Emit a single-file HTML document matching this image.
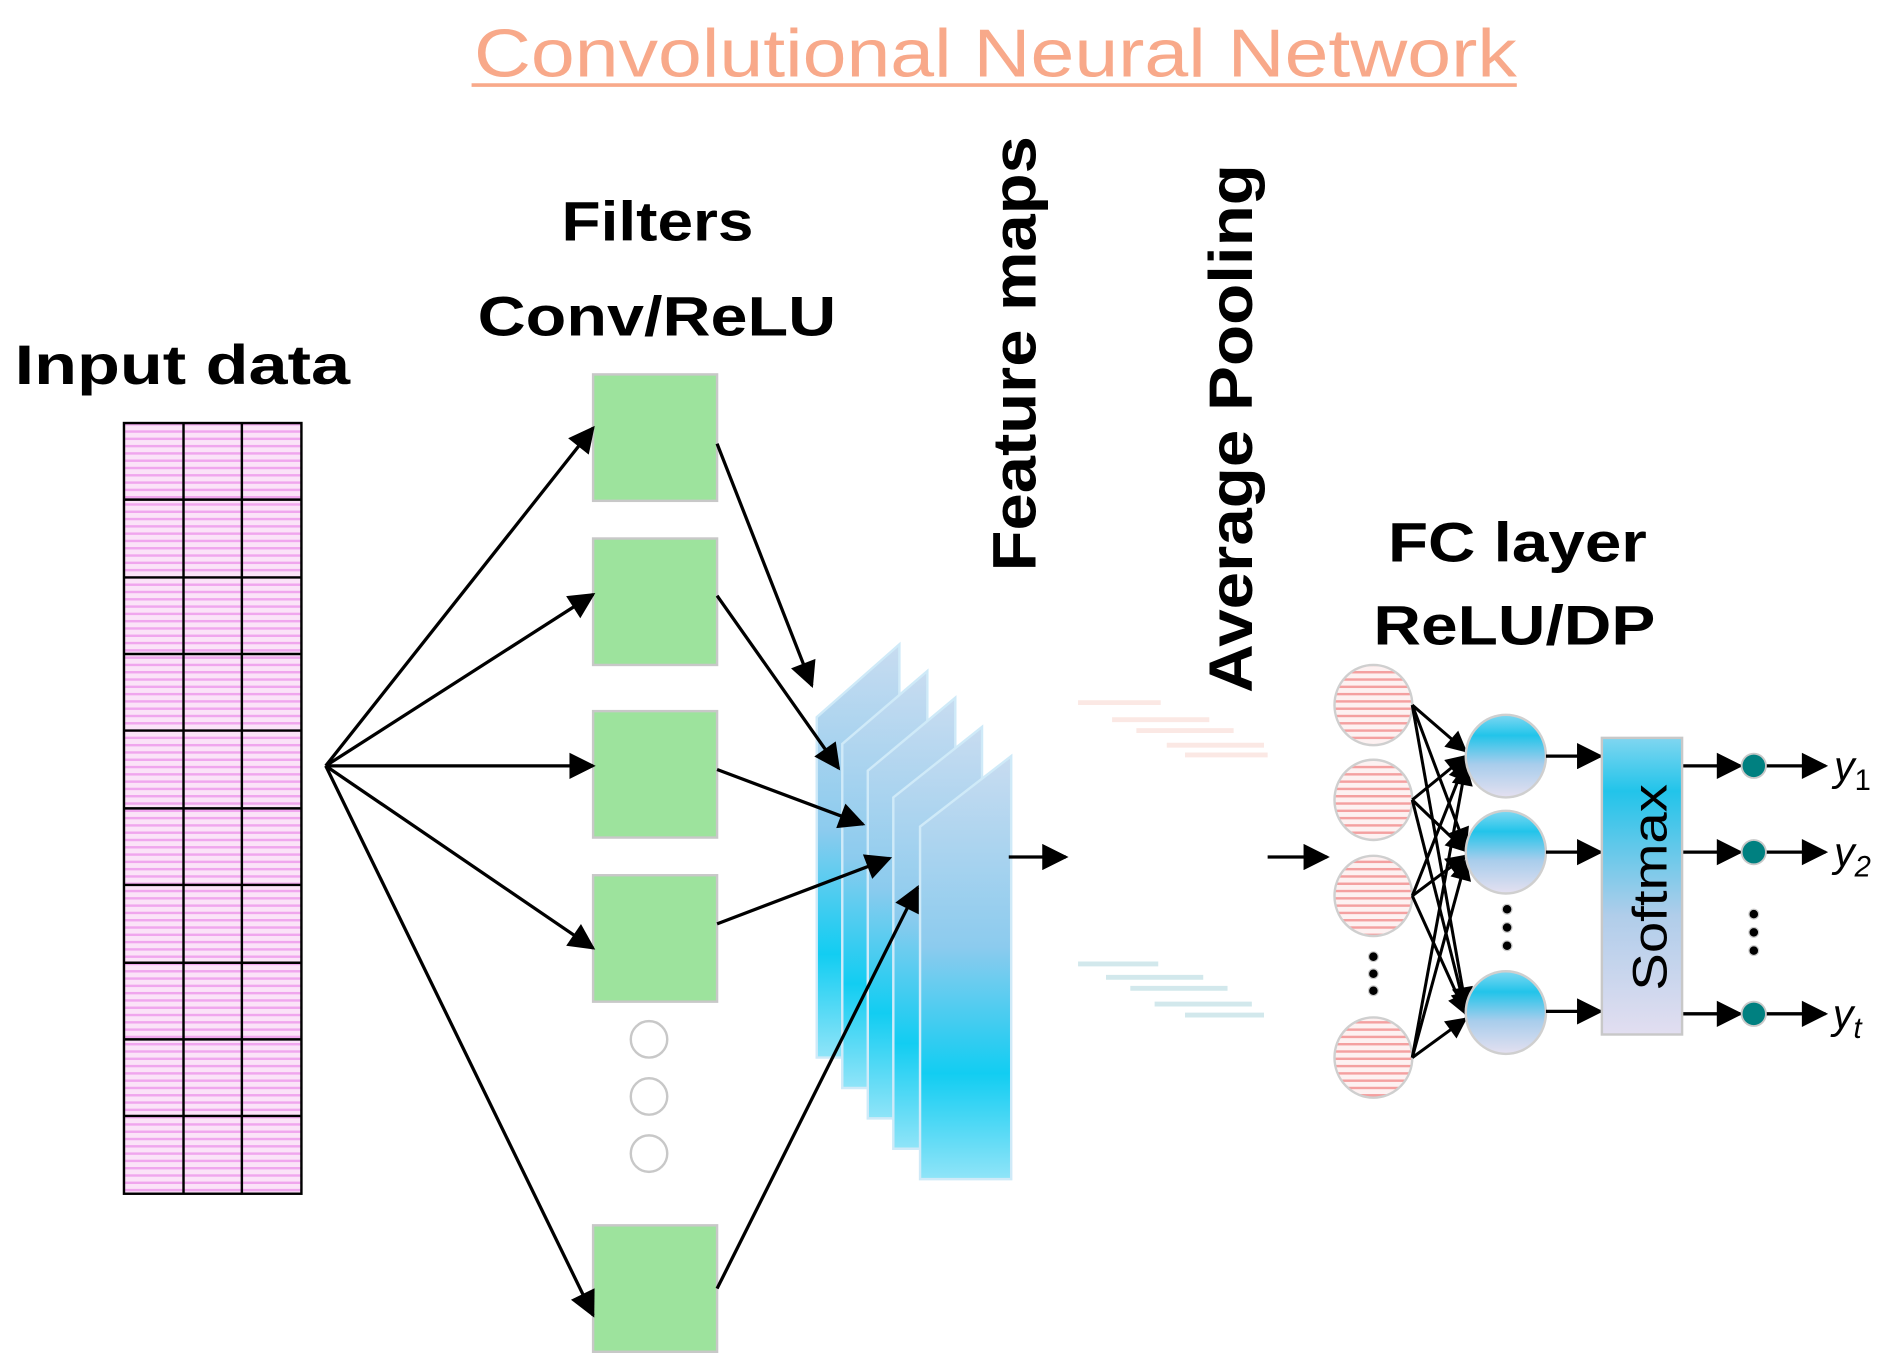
<!DOCTYPE html>
<html><head><meta charset="utf-8"><style>
html,body{margin:0;padding:0;background:#fff;}
svg{display:block;}
text{font-family:"Liberation Sans","DejaVu Sans",sans-serif;}
</style></head><body>
<svg width="1896" height="1370" viewBox="0 0 1560 1127" preserveAspectRatio="none" xmlns="http://www.w3.org/2000/svg">
<defs>
<marker id="a" viewBox="0 0 10 10" refX="9" refY="5" markerWidth="9" markerHeight="8" orient="auto"><path d="M0,0L10,5L0,10z" fill="#000"/></marker>
<marker id="b" viewBox="0 0 10 10" refX="9" refY="5" markerWidth="8" markerHeight="7" orient="auto"><path d="M0,0L10,5L0,10z" fill="#000"/></marker>
<pattern id="pk" width="6" height="6" patternUnits="userSpaceOnUse"><rect width="6" height="6" fill="#fbe3f8"/><rect y="0" width="6" height="2" fill="#f0a6ee"/></pattern>
<pattern id="rd" width="6" height="6" patternUnits="userSpaceOnUse"><rect width="6" height="6" fill="#fdf1f1"/><rect y="0" width="6" height="2" fill="#f4a0a0"/></pattern>
<linearGradient id="fm" x1="0" y1="0" x2="0" y2="1"><stop offset="0" stop-color="#c8dcf0"/><stop offset="0.45" stop-color="#8ccbee"/><stop offset="0.75" stop-color="#12cdf2"/><stop offset="1" stop-color="#90e4f8"/></linearGradient>
<linearGradient id="hn" x1="0" y1="0" x2="0" y2="1"><stop offset="0" stop-color="#7fd8f2"/><stop offset="0.25" stop-color="#22c4ea"/><stop offset="0.6" stop-color="#a8cdec"/><stop offset="1" stop-color="#e4e0f0"/></linearGradient>
<linearGradient id="sm" x1="0" y1="0" x2="0" y2="1"><stop offset="0" stop-color="#80d6f0"/><stop offset="0.18" stop-color="#22c4ea"/><stop offset="0.6" stop-color="#b0cdea"/><stop offset="1" stop-color="#e2def0"/></linearGradient>
</defs>

<text x="390" y="63" font-size="56" fill="#f8a98a" textLength="858" lengthAdjust="spacingAndGlyphs">Convolutional Neural Network</text>
<line x1="388" y1="70" x2="1248" y2="70" stroke="#f8a98a" stroke-width="3"/>

<text x="12" y="316" font-size="46" font-weight="bold" textLength="276" lengthAdjust="spacingAndGlyphs">Input data</text>
<rect x="102" y="348" width="146" height="634" fill="url(#pk)"/>
<g stroke="#000" stroke-width="2" fill="none">
<rect x="102" y="348" width="146" height="634"/>
<line x1="151" y1="348" x2="151" y2="982"/><line x1="199" y1="348" x2="199" y2="982"/>
<line x1="102" y1="411" x2="248" y2="411"/><line x1="102" y1="475" x2="248" y2="475"/><line x1="102" y1="538" x2="248" y2="538"/><line x1="102" y1="601" x2="248" y2="601"/><line x1="102" y1="665" x2="248" y2="665"/><line x1="102" y1="728" x2="248" y2="728"/><line x1="102" y1="792" x2="248" y2="792"/><line x1="102" y1="855" x2="248" y2="855"/><line x1="102" y1="918" x2="248" y2="918"/>
</g>

<text x="462" y="198" font-size="46" font-weight="bold" textLength="158" lengthAdjust="spacingAndGlyphs">Filters</text>
<text x="393" y="276" font-size="46" font-weight="bold" textLength="295" lengthAdjust="spacingAndGlyphs">Conv/ReLU</text>
<g fill="#9de39d" stroke="#c8c8c8" stroke-width="2">
<rect x="488" y="308" width="102" height="104"/><rect x="488" y="443" width="102" height="104"/><rect x="488" y="585" width="102" height="104"/><rect x="488" y="720" width="102" height="104"/><rect x="488" y="1008" width="102" height="104"/>
</g>
<g fill="none" stroke="#c8c8c8" stroke-width="2"><circle cx="534" cy="855" r="15"/><circle cx="534" cy="902" r="15"/><circle cx="534" cy="949" r="15"/></g>

<g fill="url(#fm)" stroke="#cfeaf8" stroke-width="2">
<polygon points="672,590 740,530 740,870 672,870"/>
<polygon points="693,612 763,552 763,895 693,895"/>
<polygon points="714,634 786,574 786,920 714,920"/>
<polygon points="735,656 808,598 808,945 735,945"/>
<polygon points="757,680 832,622 832,970 757,970"/>
</g>

<g stroke="#000" stroke-width="2.7" marker-end="url(#a)" fill="none">
<line x1="268" y1="630" x2="488" y2="352"/><line x1="268" y1="630" x2="488" y2="489"/><line x1="268" y1="630" x2="488" y2="630"/><line x1="268" y1="630" x2="488" y2="780"/><line x1="268" y1="630" x2="488" y2="1082"/>
<line x1="590" y1="365" x2="668" y2="564"/><line x1="590" y1="490" x2="690" y2="632"/><line x1="590" y1="633" x2="710" y2="678"/><line x1="590" y1="760" x2="732" y2="706"/><line x1="590" y1="1060" x2="755" y2="730"/>
<line x1="830" y1="705" x2="877" y2="705"/><line x1="1043" y1="705" x2="1092" y2="705"/>
</g>

<text transform="translate(852,470) rotate(-90)" font-size="50" font-weight="bold" textLength="358" lengthAdjust="spacingAndGlyphs">Feature maps</text>
<text transform="translate(1030,570) rotate(-90)" font-size="50" font-weight="bold" textLength="435" lengthAdjust="spacingAndGlyphs">Average Pooling</text>

<g stroke="#fbe8e4" stroke-width="4"><line x1="887" y1="578" x2="955" y2="578"/><line x1="915" y1="592" x2="995" y2="592"/><line x1="935" y1="601" x2="1015" y2="601"/><line x1="960" y1="613" x2="1040" y2="613"/><line x1="975" y1="621" x2="1043" y2="621"/></g>
<g stroke="#d2e8ec" stroke-width="4"><line x1="887" y1="793" x2="953" y2="793"/><line x1="910" y1="804" x2="990" y2="804"/><line x1="930" y1="813" x2="1010" y2="813"/><line x1="950" y1="826" x2="1030" y2="826"/><line x1="975" y1="835" x2="1040" y2="835"/></g>

<text x="1142" y="462" font-size="46" font-weight="bold" textLength="213" lengthAdjust="spacingAndGlyphs">FC layer</text>
<text x="1130" y="530" font-size="46" font-weight="bold" textLength="232" lengthAdjust="spacingAndGlyphs">ReLU/DP</text>

<g fill="url(#rd)" stroke="#cfcfcf" stroke-width="2">
<ellipse cx="1130" cy="580" rx="32" ry="33"/><ellipse cx="1130" cy="658" rx="32" ry="33"/><ellipse cx="1130" cy="737" rx="32" ry="33"/><ellipse cx="1130" cy="870" rx="32" ry="33"/>
</g>
<g fill="#000" stroke="#ccc" stroke-width="1"><circle cx="1130" cy="787" r="4"/><circle cx="1130" cy="801" r="4"/><circle cx="1130" cy="815" r="4"/>
<circle cx="1240" cy="748" r="4"/><circle cx="1240" cy="763" r="4"/><circle cx="1240" cy="778" r="4"/>
<circle cx="1443" cy="752" r="4"/><circle cx="1443" cy="767" r="4"/><circle cx="1443" cy="782" r="4"/></g>

<g stroke="#000" stroke-width="2.5" marker-end="url(#b)">
<line x1="1162" y1="580" x2="1206" y2="618"/><line x1="1162" y1="580" x2="1206" y2="697"/><line x1="1162" y1="580" x2="1206" y2="828"/>
<line x1="1162" y1="658" x2="1206" y2="622"/><line x1="1162" y1="658" x2="1206" y2="700"/><line x1="1162" y1="658" x2="1206" y2="832"/>
<line x1="1162" y1="737" x2="1206" y2="626"/><line x1="1162" y1="737" x2="1206" y2="704"/><line x1="1162" y1="737" x2="1206" y2="834"/>
<line x1="1162" y1="870" x2="1206" y2="630"/><line x1="1162" y1="870" x2="1206" y2="708"/><line x1="1162" y1="870" x2="1206" y2="838"/>
</g>

<g fill="url(#hn)" stroke="#cfcfcf" stroke-width="2">
<ellipse cx="1239" cy="622" rx="33" ry="34"/><ellipse cx="1239" cy="701" rx="33" ry="34"/><ellipse cx="1239" cy="833" rx="33" ry="34"/>
</g>

<g stroke="#000" stroke-width="2.7" marker-end="url(#a)">
<line x1="1272" y1="622" x2="1317" y2="622"/><line x1="1272" y1="701" x2="1317" y2="701"/><line x1="1272" y1="832" x2="1317" y2="832"/>
<line x1="1384" y1="630" x2="1432" y2="630"/><line x1="1384" y1="701" x2="1432" y2="701"/><line x1="1384" y1="834" x2="1432" y2="834"/>
<line x1="1453" y1="630" x2="1502" y2="630"/><line x1="1453" y1="701" x2="1502" y2="701"/><line x1="1453" y1="834" x2="1502" y2="834"/>
</g>

<rect x="1318" y="607" width="66" height="244" fill="url(#sm)" stroke="#c8c8c8" stroke-width="2"/>
<text transform="translate(1371,815) rotate(-90)" font-size="40" textLength="170" lengthAdjust="spacingAndGlyphs">Softmax</text>

<g fill="#008080" stroke="#c8c8c8" stroke-width="1.5"><circle cx="1443" cy="630" r="10"/><circle cx="1443" cy="701" r="10"/><circle cx="1443" cy="834" r="10"/></g>

<g font-size="34" font-style="italic">
<text x="1509" y="642">y<tspan font-size="24" font-style="normal" dy="8">1</tspan></text>
<text x="1509" y="713">y<tspan font-size="24" font-style="italic" dy="8">2</tspan></text>
<text x="1508" y="846">y<tspan font-size="24" dy="8">t</tspan></text>
</g>
</svg>
</body></html>
